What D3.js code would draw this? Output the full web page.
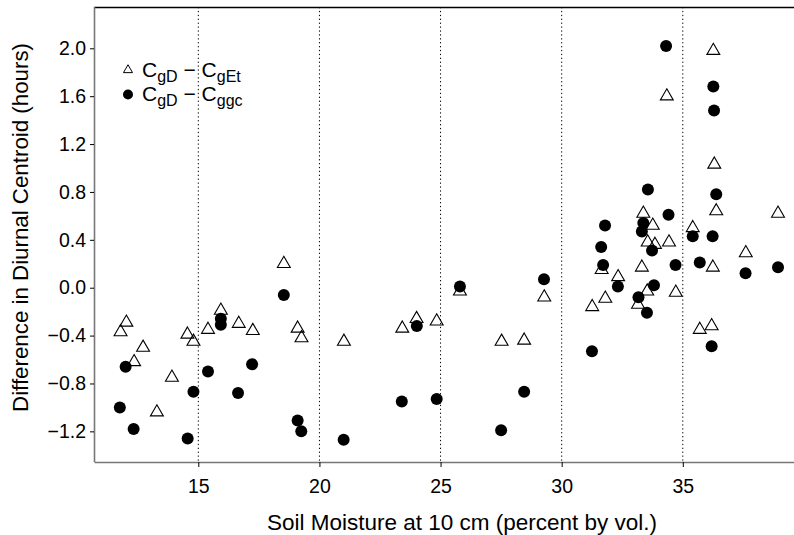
<!DOCTYPE html>
<html>
<head>
<meta charset="utf-8">
<script src="https://cdn.jsdelivr.net/npm/d3@7"></script>
<style>
  body { margin: 0; background: #fff; }
  svg { display: block; font-family: "Liberation Sans", Arial, Helvetica, sans-serif; }
</style>
</head>
<body>
<svg id="chart" width="794" height="535"></svg>
<script>
// ---- data ----
// C_gD - C_gEt (open triangles)
const triX = [11.79, 12.03, 12.35, 12.72, 13.29, 13.91, 14.55, 14.80, 15.40, 15.93,
              16.67, 17.25, 18.53, 19.10, 19.26, 21.01, 23.42, 24.01, 24.84, 25.80,
              27.52, 28.45, 29.28, 31.26, 31.80, 31.65, 32.33, 33.15, 33.53, 33.31,
              33.55, 33.85, 34.43, 33.37, 33.76, 34.71, 34.34, 35.41, 35.70, 36.19,
              36.24, 36.38, 36.30, 36.26, 37.60, 38.93];
const triY = [-0.37, -0.29, -0.62, -0.50, -1.04, -0.75, -0.39, -0.45, -0.35, -0.19,
              -0.30, -0.36, 0.20, -0.34, -0.42, -0.45, -0.34, -0.26, -0.28, -0.03,
              -0.45, -0.44, -0.08, -0.16, -0.09, 0.15, 0.09, -0.14, -0.03, 0.17,
              0.38, 0.36, 0.38, 0.62, 0.52, -0.04, 1.60, 0.50, -0.35, -0.32,
              0.17, 0.64, 1.03, 1.98, 0.29, 0.62];

// C_gD - C_ggc (filled circles)
const dotX = [11.76, 12.00, 12.33, 14.56, 14.80, 15.40, 15.93, 15.93, 16.64, 17.22,
              18.53, 19.10, 19.25, 21.00, 23.40, 24.02, 24.84, 25.80, 27.50, 28.45,
              29.27, 31.25, 31.63, 31.71, 31.79, 32.32, 33.17, 33.52, 33.81, 33.73,
              33.37, 33.31, 33.56, 34.41, 34.31, 34.70, 35.41, 35.70, 36.23, 36.19,
              36.26, 36.29, 36.38, 37.59, 38.93];
const dotY = [-1.00, -0.66, -1.18, -1.26, -0.87, -0.70, -0.26, -0.31, -0.88, -0.64,
              -0.06, -1.11, -1.20, -1.27, -0.95, -0.32, -0.93, 0.01, -1.19, -0.87,
              0.07, -0.53, 0.34, 0.19, 0.52, 0.01, -0.08, -0.21, 0.02, 0.31,
              0.54, 0.47, 0.82, 0.61, 2.02, 0.19, 0.43, 0.21, 0.43, -0.49,
              1.68, 1.48, 0.78, 0.12, 0.17];

const xTicks = [15, 20, 25, 30, 35];
const yTicks = [-1.2, -0.8, -0.4, 0.0, 0.4, 0.8, 1.2, 1.6, 2.0];

// ---- layout ----
const svg = d3.select("#chart");
const plotL = 94, plotR = 794, plotT = 7, plotB = 462;

const x = d3.scaleLinear().domain([10.694, 39.59]).range([plotL, plotR]);
const y = d3.scaleLinear().domain([-1.456, 2.345]).range([plotB, plotT]);

// dotted vertical grid lines
svg.append("g")
  .selectAll("line")
  .data(xTicks)
  .enter()
  .append("line")
  .attr("x1", d => x(d)).attr("x2", d => x(d))
  .attr("y1", plotT).attr("y2", plotB)
  .style("stroke", "#000")
  .style("stroke-width", 1)
  .style("stroke-dasharray", "1.3,2.6");

// top border
svg.append("line")
  .attr("x1", plotL).attr("x2", plotR)
  .attr("y1", plotT + 0.5).attr("y2", plotT + 0.5)
  .style("stroke", "#000")
  .style("stroke-width", 1.4);

// x axis
const gx = svg.append("g")
  .attr("transform", `translate(0,${plotB})`)
  .call(d3.axisBottom(x).tickValues(xTicks).tickSize(5).tickSizeOuter(0).tickPadding(12));
gx.select(".domain").style("stroke", "#777").style("stroke-width", 1.6);
gx.selectAll(".tick line").style("stroke", "#000");
gx.selectAll("text").style("font-size", "19.5px").style("fill", "#000")
  .style("font-family", "'Liberation Sans', Arial, sans-serif");

// y axis
const gy = svg.append("g")
  .attr("transform", `translate(${plotL},0)`)
  .call(d3.axisLeft(y).tickValues(yTicks).tickFormat(d3.format(".1f"))
    .tickSize(4).tickSizeOuter(0).tickPadding(4));
gy.select(".domain").style("stroke", "#777").style("stroke-width", 1.6)
  .attr("d", `M0.5,${plotT}V${plotB}`);
gy.selectAll(".tick line").style("stroke", "#000");
gy.selectAll("text").style("font-size", "19.5px").style("fill", "#000")
  .style("font-family", "'Liberation Sans', Arial, sans-serif");

// axis titles
svg.append("text")
  .attr("x", 462)
  .attr("y", 530)
  .attr("text-anchor", "middle")
  .style("font-size", "22.5px")
  .text("Soil Moisture at 10 cm (percent by vol.)");

svg.append("text")
  .attr("transform", "translate(28,227.5) rotate(-90)")
  .attr("text-anchor", "middle")
  .style("font-size", "22.3px")
  .text("Difference in Diurnal Centroid (hours)");

// triangles
const tri = d3.symbol().type(d3.symbolTriangle).size(72);
svg.append("g")
  .selectAll("path")
  .data(triX.map((d, i) => [d, triY[i]]))
  .enter()
  .append("path")
  .attr("d", tri)
  .attr("transform", d => `translate(${x(d[0])},${y(d[1])})`)
  .style("fill", "none")
  .style("stroke", "#000")
  .style("stroke-width", 1.1);

// circles
svg.append("g")
  .selectAll("circle")
  .data(dotX.map((d, i) => [d, dotY[i]]))
  .enter()
  .append("circle")
  .attr("cx", d => x(d[0]))
  .attr("cy", d => y(d[1]))
  .attr("r", 6)
  .style("fill", "#000");

// legend
const legend = svg.append("g");
legend.append("path")
  .attr("d", d3.symbol().type(d3.symbolTriangle).size(36))
  .attr("transform", "translate(128,70)")
  .style("fill", "none")
  .style("stroke", "#000")
  .style("stroke-width", 1);
legend.append("circle")
  .attr("cx", 128).attr("cy", 94.5).attr("r", 5)
  .style("fill", "#000");

function legendLabel(yBase, sub2) {
  const t = legend.append("text")
    .attr("x", 142).attr("y", yBase)
    .style("font-size", "21px");
  t.append("tspan").text("C");
  t.append("tspan").attr("dy", 5).style("font-size", "16px").text("gD");
  t.append("tspan").attr("dy", -5).text(" \u2212 C");
  t.append("tspan").attr("dy", 5).style("font-size", "16px").text(sub2);
}
legendLabel(77, "gEt");
legendLabel(101, "ggc");
</script>
</body>
</html>
